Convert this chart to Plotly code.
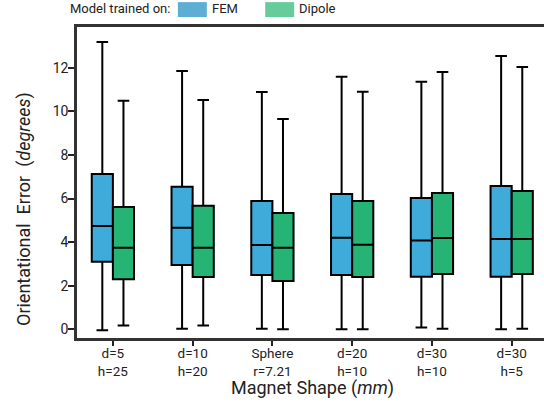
import plotly.graph_objects as go

categories = ["d=5<br>h=25", "d=10<br>h=20", "Sphere<br>r=7.21", "d=20<br>h=10", "d=30<br>h=10", "d=30<br>h=5"]

fem_low = [-0.05, 0.03, 0.03, 0.0, 0.08, 0.0]
fem_q1 = [3.10, 2.95, 2.49, 2.49, 2.41, 2.41]
fem_med = [4.74, 4.66, 3.87, 4.20, 4.07, 4.14]
fem_q3 = [7.12, 6.54, 5.89, 6.21, 6.02, 6.57]
fem_high = [13.18, 11.85, 10.89, 11.59, 11.36, 12.54]

dip_low = [0.17, 0.17, 0.0, 0.0, 0.03, 0.03]
dip_q1 = [2.29, 2.40, 2.22, 2.40, 2.54, 2.54]
dip_med = [3.74, 3.74, 3.74, 3.88, 4.19, 4.14]
dip_q3 = [5.61, 5.67, 5.34, 5.89, 6.25, 6.34]
dip_high = [10.49, 10.52, 9.65, 10.90, 11.80, 12.03]

FONT = "Roboto"
FEM_C = "#3FABDB"
DIP_C = "#25B474"

fig = go.Figure()
fig.add_trace(go.Box(x=categories, lowerfence=fem_low, q1=fem_q1, median=fem_med, q3=fem_q3,
                     upperfence=fem_high, name="FEM", fillcolor=FEM_C,
                     line=dict(color="black", width=2), whiskerwidth=0.55))
fig.add_trace(go.Box(x=categories, lowerfence=dip_low, q1=dip_q1, median=dip_med, q3=dip_q3,
                     upperfence=dip_high, name="Dipole", fillcolor=DIP_C,
                     line=dict(color="black", width=2), whiskerwidth=0.55))

fig.update_layout(
    width=544, height=406,
    margin=dict(l=77, r=0, t=27, b=68),
    paper_bgcolor="white", plot_bgcolor="white",
    boxmode="group", boxgap=0.47, boxgroupgap=0,
    showlegend=False,
    font=dict(family=FONT, size=13, color="#222"),
    xaxis=dict(type="category", range=[-0.45, 5.405], showline=True, linecolor="#333", linewidth=2.5,
               mirror=True, ticks="outside", ticklen=5, tickwidth=2, tickcolor="#222",
               showgrid=False, zeroline=False, ticklabelstandoff=-4,
               tickfont=dict(size=13.5)),
    yaxis=dict(range=[-0.40, 13.87], tickvals=[0, 2, 4, 6, 8, 10, 12], showline=True,
               linecolor="#333", linewidth=2.5, ticks="outside", ticklen=6, tickwidth=2,
               tickcolor="#222", showgrid=False, zeroline=False, ticklabelstandoff=-3,
               tickfont=dict(size=14)),
)

fig.add_annotation(x=(24 - 77) / 467, y=(338 - 209) / 311, xref="paper", yref="paper",
                   xanchor="center", yanchor="middle",
                   text="Orientational  Error  (<i>degrees</i>)", textangle=-90,
                   showarrow=False, font=dict(size=18, color="#222"))
fig.add_annotation(x=(312 - 77) / 467, y=(338 - 388) / 311, xref="paper", yref="paper",
                   xanchor="center", yanchor="middle",
                   text="Magnet Shape (<i>mm</i>)",
                   showarrow=False, font=dict(size=18, color="#222"))

# custom legend
fig.add_annotation(x=0.203, y=1.058, xref="paper", yref="paper", xanchor="right", yanchor="middle",
                   text="Model trained on:", showarrow=False, font=dict(size=13, color="#222"))
fig.add_shape(type="rect", xref="paper", yref="paper", x0=0.216, x1=0.278, y0=1.032, y1=1.080,
              fillcolor="#5DAED4", line=dict(width=0))
fig.add_annotation(x=0.284, y=1.058, xref="paper", yref="paper", xanchor="left", yanchor="middle",
                   text="FEM", showarrow=False, font=dict(size=13, color="#222"))
fig.add_shape(type="rect", xref="paper", yref="paper", x0=0.403, x1=0.465, y0=1.032, y1=1.080,
              fillcolor="#66CC99", line=dict(width=0))
fig.add_annotation(x=0.471, y=1.058, xref="paper", yref="paper", xanchor="left", yanchor="middle",
                   text="Dipole", showarrow=False, font=dict(size=13, color="#222"))

fig.write_html("out.html")
